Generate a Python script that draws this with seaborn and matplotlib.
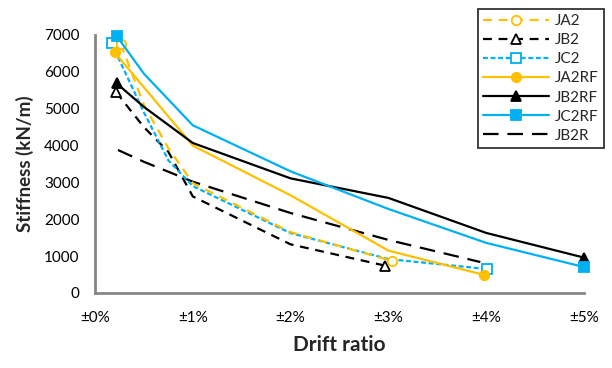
import numpy as np
import pandas as pd
import matplotlib
matplotlib.use("Agg")
import matplotlib.pyplot as plt
from matplotlib.lines import Line2D
import seaborn as sns

# ---- data (drift ratio in %, stiffness in kN/m) ----
ja2_x = [0.265, 0.5, 0.75, 1.0, 2.0, 3.04]
ja2_y = [6750, 5100, 3930, 2980, 1650, 870]

jb2_x = [0.215, 0.5, 0.75, 1.0, 2.0, 2.97]
jb2_y = [5450, 4500, 3830, 2620, 1320, 740]

jc2_x = [0.17, 0.5, 0.75, 1.0, 2.0, 3.0, 4.01]
jc2_y = [6770, 4900, 3600, 2900, 1625, 920, 650]

ja2rf_x = [0.2, 0.5, 1.0, 2.0, 3.0, 3.98]
ja2rf_y = [6530, 5580, 4000, 2650, 1150, 490]

jb2rf_x = [0.22, 0.5, 1.0, 2.0, 3.0, 4.0, 5.0]
jb2rf_y = [5690, 5050, 4070, 3110, 2580, 1630, 960]

jc2rf_x = [0.225, 0.5, 1.0, 2.0, 3.0, 4.0, 5.0]
jc2rf_y = [6960, 5950, 4550, 3300, 2280, 1360, 705]

jb2r_x = [0.235, 0.5, 1.0, 2.0, 3.0, 3.94]
jb2r_y = [3880, 3560, 3020, 2170, 1440, 840]

series_names = ["JA2", "JB2", "JC2", "JA2RF", "JB2RF", "JC2RF", "JB2R"]
x_ticks = [0, 1, 2, 3, 4, 5]
x_tick_labels = ["±0%", "±1%", "±2%", "±3%", "±4%", "±5%"]
y_ticks = [0, 1000, 2000, 3000, 4000, 5000, 6000, 7000]

ORANGE = "#FFC000"
BLUE = "#00B0F0"
BLACK = "#000000"

styles = {
    "JA2":   dict(color=ORANGE, ls=(0, (4, 3)), marker="o", mfc="white", mec=ORANGE),
    "JB2":   dict(color=BLACK, ls=(0, (4, 3)), marker="^", mfc="white", mec=BLACK),
    "JC2":   dict(color=BLUE, ls=(0, (2.2, 1.2)), marker="s", mfc="white", mec=BLUE),
    "JA2RF": dict(color=ORANGE, ls="-", marker="o", mfc=ORANGE, mec=ORANGE),
    "JB2RF": dict(color=BLACK, ls="-", marker="^", mfc=BLACK, mec=BLACK),
    "JC2RF": dict(color=BLUE, ls="-", marker="s", mfc=BLUE, mec=BLUE),
    "JB2R":  dict(color=BLACK, ls=(0, (7, 4)), marker=None, mfc=None, mec=None),
}
data = {
    "JA2": (ja2_x, ja2_y), "JB2": (jb2_x, jb2_y), "JC2": (jc2_x, jc2_y),
    "JA2RF": (ja2rf_x, ja2rf_y), "JB2RF": (jb2rf_x, jb2rf_y),
    "JC2RF": (jc2rf_x, jc2rf_y), "JB2R": (jb2r_x, jb2r_y),
}

sns.set_theme(style="white")
plt.rcParams["font.family"] = ["Lato", "DejaVu Sans"]

fig = plt.figure(figsize=(6.12, 3.68), dpi=100)
ax = fig.add_axes([95 / 612, 1 - 293 / 368, (584 - 95) / 612, (293 - 35) / 368])

LW = 1.6
MS = 6.8
draw_order = ["JB2R", "JB2", "JC2", "JA2", "JA2RF", "JB2RF", "JC2RF"]
for name in draw_order:
    xs, ys = data[name]
    st = styles[name]
    df = pd.DataFrame({"drift": xs, "k": ys})
    kw = dict(color=st["color"], linestyle=st["ls"], linewidth=LW)
    if st["marker"]:
        kw.update(marker=st["marker"], markevery=[0, len(xs) - 1], markersize=MS,
                  markerfacecolor=st["mfc"], markeredgecolor=st["mec"],
                  markeredgewidth=1.3)
    sns.lineplot(data=df, x="drift", y="k", ax=ax, sort=False, estimator=None,
                 legend=False, clip_on=False, **kw)

ax.set_xlim(0, 5)
ax.set_ylim(0, 7000)
ax.set_xticks(x_ticks)
ax.set_xticklabels(x_tick_labels)
ax.set_yticks(y_ticks)
ax.tick_params(axis="both", which="major", direction="out", length=5, width=1.5,
               color="#868686", labelsize=11, labelcolor="black", pad=6)
ax.tick_params(axis="x", pad=8)
for side in ["top", "right"]:
    ax.spines[side].set_visible(False)
for side in ["left", "bottom"]:
    ax.spines[side].set_color("#868686")
    ax.spines[side].set_linewidth(2)

ax.set_xlabel("Drift ratio", fontsize=15, fontweight="bold", labelpad=7)
ax.set_ylabel("Stiffness (kN/m)", fontsize=13.5, fontweight="bold", labelpad=7)

handles = []
for name in series_names:
    st = styles[name]
    h = Line2D([], [], color=st["color"], linestyle=st["ls"], linewidth=LW,
               marker=st["marker"] if st["marker"] else None, markersize=MS,
               markerfacecolor=st["mfc"], markeredgecolor=st["mec"], markeredgewidth=1.3)
    handles.append(h)
leg = fig.legend(handles, series_names, loc="upper left",
                 bbox_to_anchor=(478 / 612, 1 - 9 / 368), bbox_transform=fig.transFigure,
                 frameon=True, fancybox=False, edgecolor="black", fontsize=11,
                 handlelength=4.3, handletextpad=0.4, labelspacing=0.33,
                 borderpad=0.35, borderaxespad=0, numpoints=1)
leg.get_frame().set_linewidth(1.3)

fig.savefig("out.png", dpi=100, facecolor="white")
